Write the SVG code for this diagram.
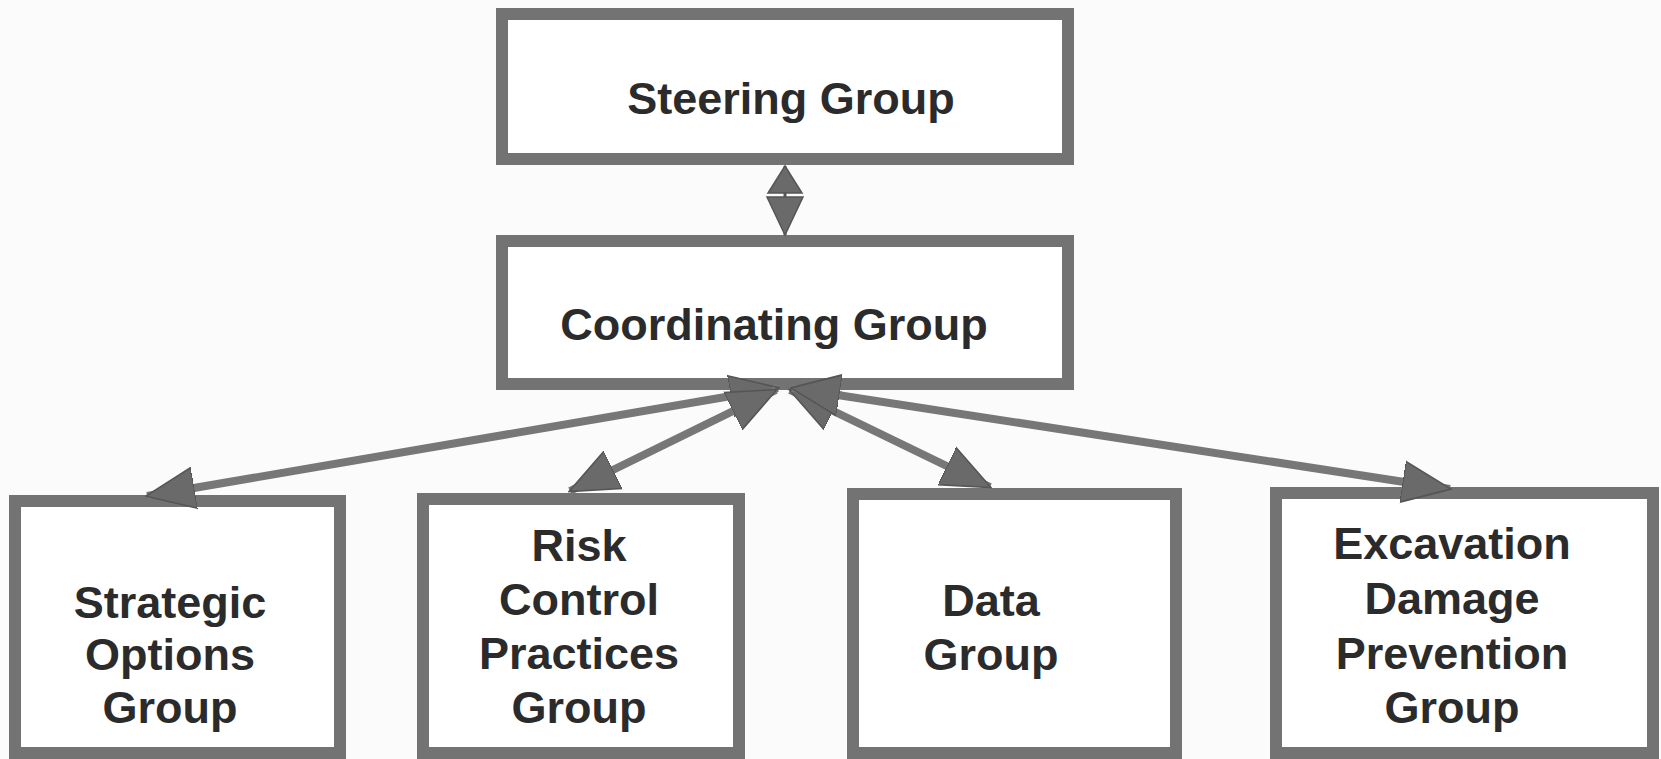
<svg xmlns="http://www.w3.org/2000/svg" width="1661" height="759" viewBox="0 0 1661 759">
<style>
.box{fill:#ffffff;stroke:#737373;stroke-width:12}
.lbl{font-family:"Liberation Sans",Arial,sans-serif;font-weight:bold;font-size:45px;fill:#2b2b2b;text-anchor:middle}
.con{stroke:#777777;stroke-width:8;fill:none}
.head{fill:#6a6a6a;stroke:#555555;stroke-width:1.5}
</style>
<defs>
<marker id="ah" markerUnits="userSpaceOnUse" markerWidth="50" markerHeight="44" viewBox="0 -20 46 40" refX="44" refY="0" orient="auto-start-reverse">
<path d="M0,-19 L45,0 L0,19 Z" fill="#6a6a6a" stroke="#555555" stroke-width="1.5"/>
</marker>
</defs>
<rect width="1661" height="759" fill="#fbfbfb"/>
<g id="steering"><rect class="box" x="502" y="14" width="566" height="145"/><text class="lbl" x="791" y="114">Steering Group</text></g>
<g id="coordinating"><rect class="box" x="502" y="241" width="566" height="143"/><text class="lbl" x="774" y="340">Coordinating Group</text></g>
<g id="strategic"><rect class="box" x="15" y="501" width="325" height="252"/><text class="lbl" x="170"><tspan x="170" y="618">Strategic</tspan><tspan x="170" y="670">Options</tspan><tspan x="170" y="723">Group</tspan></text></g>
<g id="risk"><rect class="box" x="423" y="499" width="316" height="254"/><text class="lbl" x="579"><tspan x="579" y="561">Risk</tspan><tspan x="579" y="615">Control</tspan><tspan x="579" y="669">Practices</tspan><tspan x="579" y="723">Group</tspan></text></g>
<g id="data"><rect class="box" x="853" y="494" width="323" height="259"/><text class="lbl" x="991"><tspan x="991" y="616">Data</tspan><tspan x="991" y="670">Group</tspan></text></g>
<g id="excavation"><rect class="box" x="1276" y="493" width="377" height="260"/><text class="lbl" x="1452"><tspan x="1452" y="559">Excavation</tspan><tspan x="1452" y="614">Damage</tspan><tspan x="1452" y="669">Prevention</tspan><tspan x="1452" y="723">Group</tspan></text></g>
<g id="connectors">
<line x1="785" y1="166" x2="785" y2="235" stroke="#555555" stroke-width="3"/>
<polygon class="head" points="785,166 802,193 768,193"/>
<polygon class="head" points="767,197 803,197 785,235"/>
<line class="con" x1="778" y1="388" x2="147" y2="496" marker-start="url(#ah)" marker-end="url(#ah)"/>
<line class="con" x1="776" y1="390" x2="570" y2="491" marker-start="url(#ah)" marker-end="url(#ah)"/>
<line class="con" x1="790" y1="390" x2="990" y2="487" marker-start="url(#ah)" marker-end="url(#ah)"/>
<line class="con" x1="792" y1="388" x2="1450" y2="489" marker-start="url(#ah)" marker-end="url(#ah)"/>
</g>
</svg>
